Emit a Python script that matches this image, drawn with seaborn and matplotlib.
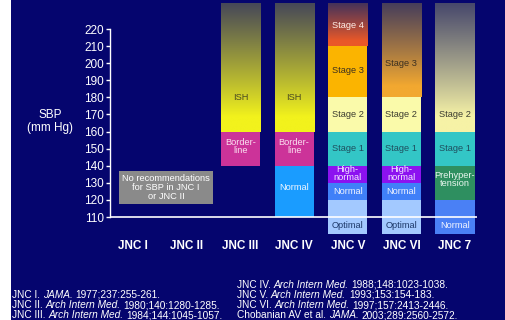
import numpy as np
import pandas as pd
import seaborn as sns
import matplotlib
matplotlib.use("Agg")
import matplotlib.pyplot as plt
from matplotlib.patches import Rectangle
from matplotlib.colors import to_rgb

# ---------------- data ----------------
reports = ["JNC I", "JNC II", "JNC III", "JNC IV", "JNC V", "JNC VI", "JNC 7"]

seg_report = ["JNC III", "JNC III",
              "JNC IV", "JNC IV", "JNC IV",
              "JNC V", "JNC V", "JNC V", "JNC V", "JNC V", "JNC V", "JNC V",
              "JNC VI", "JNC VI", "JNC VI", "JNC VI", "JNC VI", "JNC VI",
              "JNC 7", "JNC 7", "JNC 7", "JNC 7"]
seg_label = ["Border-\nline", "ISH",
             "Normal", "Border-\nline", "ISH",
             "Optimal", "Normal", "High-\nnormal", "Stage 1", "Stage 2", "Stage 3", "Stage 4",
             "Optimal", "Normal", "High-\nnormal", "Stage 1", "Stage 2", "Stage 3",
             "Normal", "Prehyper-\ntension", "Stage 1", "Stage 2"]
seg_low = [140, 160,
           110, 140, 160,
           100, 120, 130, 140, 160, 180, 210,
           100, 120, 130, 140, 160, 180,
           100, 120, 140, 160]
seg_high = [160, 235,
            140, 160, 235,
            120, 130, 140, 160, 180, 210, 235,
            120, 130, 140, 160, 180, 235,
            120, 140, 160, 235]
seg_fade = [False, True,
            False, False, True,
            False, False, False, False, False, False, True,
            False, False, False, False, False, True,
            False, False, False, True]

# styles
seg_color = ["#cc3399", "#f2f21c",
             "#1a9cff", "#cc3399", "#f2f21c",
             "#a3c9ff", "#4080f8", "#8c12f0", "#33c6c6", "#fafaaa", "#fbb400", "#ea5828",
             "#a3c9ff", "#4080f8", "#8c12f0", "#33c6c6", "#fafaaa", "#f2a830",
             "#4a80f5", "#2e8f60", "#33c6c6", "#f6f2a6"]
seg_text_color = ["#fbe0f0", "#4a4a22",
                  "#f0f6ff", "#fbe0f0", "#4a4a22",
                  "#1e3a6a", "#f0f4ff", "#f4eaff", "#1f4f5f", "#3c3c30", "#3c3020", "#fff0e8",
                  "#1e3a6a", "#f0f4ff", "#f4eaff", "#1f4f5f", "#3c3c30", "#3c3020",
                  "#f0f4ff", "#e8f6ee", "#1f4f5f", "#3c3c30"]
seg_text_y = [151, 180,
              127.5, 151, 180,
              105, 125, 135.5, 150, 170, 196, 222,
              105, 125, 135.5, 150, 170, 200,
              105, 132, 150, 170]

y_ticks = list(range(110, 221, 10))
no_rec_text = "No recommendations\nfor SBP in JNC I\nor JNC II"

refs_left = [
    [("JNC I.", False), ("JAMA.", True), ("1977;237:255-261.", False)],
    [("JNC II.", False), ("Arch Intern Med.", True), ("1980;140:1280-1285.", False)],
    [("JNC III.", False), ("Arch Intern Med.", True), ("1984;144:1045-1057.", False)],
]
refs_right = [
    [("JNC IV.", False), ("Arch Intern Med.", True), ("1988;148:1023-1038.", False)],
    [("JNC V.", False), ("Arch Intern Med.", True), ("1993;153:154-183.", False)],
    [("JNC VI.", False), ("Arch Intern Med.", True), ("1997;157:2413-2446.", False)],
    [("Chobanian AV et al.", False), ("JAMA.", True), ("2003;289:2560-2572.", False)],
]

# ---------------- figure ----------------
W, H = 505, 320
NAVY = "#05056e"
sns.set_theme(style="white")
plt.rcParams["font.family"] = ["Liberation Sans", "DejaVu Sans"]

fig = plt.figure(figsize=(W / 100, H / 100), dpi=100, facecolor="white")
fig.patches.append(Rectangle((11 / W, 0), 1 - 11 / W, 1, transform=fig.transFigure,
                             facecolor=NAVY, edgecolor="none", zorder=-10))

ax = fig.add_axes([110 / W, 83 / H, 367 / W, 237 / H])
ax.set_facecolor("none")

navy_rgb = np.array(to_rgb(NAVY))
grey_top = np.array(to_rgb("#2a2c62"))
for rep, lab, lo, hi, fade, col, tcol, ty in zip(seg_report, seg_label, seg_low, seg_high,
                                                 seg_fade, seg_color, seg_text_color, seg_text_y):
    n_before = len(ax.patches)
    sns.barplot(x=[rep], y=[hi - lo], bottom=lo, order=reports, color=col, saturation=1,
                width=0.73, errorbar=None, ax=ax, linewidth=0, edgecolor="none")
    new = ax.patches[n_before:]
    for p in new:
        if fade:
            x0, w = p.get_x(), p.get_width()
            y0, h = p.get_y(), p.get_height()
            c = np.array(to_rgb(col))
            dark = c * 0.14 + grey_top * 0.86
            t = np.linspace(0, 1, 256)[:, None]
            f = np.clip((t - 0.12) / 0.88, 0, 1) ** 0.95
            img = c[None, :] * (1 - f) + dark[None, :] * f
            img = img[:, None, :]
            ax.imshow(img, extent=[x0, x0 + w, y0, y0 + h], origin="lower",
                      aspect="auto", interpolation="bilinear", zorder=p.get_zorder() + 0.1)
            p.set_visible(False)
    xi = reports.index(rep)
    ax.text(xi, ty, lab, ha="center", va="center", fontsize=6.7, color=tcol,
            linespacing=0.85, zorder=6)

# grey "no recommendations" box
ax.text(0.61, 127.3, no_rec_text, ha="center", va="center", fontsize=6.7, color="white",
        linespacing=1.05, zorder=6,
        bbox=dict(boxstyle="square,pad=0.3", facecolor="#8a8a8a", edgecolor="none"))

# axes styling
ax.set_xlim(-0.435, 6.41)
ax.set_ylim(98.3, 237.0)
ax.set_yticks(y_ticks)
ax.set_yticklabels([str(v) for v in y_ticks], color="white", fontsize=8.5)
ax.set_xticks(range(len(reports)))
ax.set_xticklabels(reports, color="white", fontsize=8.5, fontweight="bold")
ax.tick_params(axis="x", length=0, pad=2)
ax.tick_params(axis="y", length=3, width=1, color="white", pad=1.5, left=True, direction="out")
for s in ["top", "right", "bottom"]:
    ax.spines[s].set_visible(False)
ax.spines["left"].set_color("white")
ax.spines["left"].set_linewidth(1)
ax.spines["left"].set_bounds(110, 220)
ax.axhline(110, color="white", lw=1.2, zorder=7)
ax.set_xlabel("")
ax.set_ylabel("SBP\n(mm Hg)", rotation=0, color="white", fontsize=8.5, ha="center",
              va="center", linespacing=1.1)
ax.yaxis.set_label_coords(-0.163, 0.487)
ax.grid(False)

# references
renderer = fig.canvas.get_renderer()
REF_FS = 7.3
space_px = 0.278 * REF_FS * 100 / 72


def rich_line(x_px, y_px, parts):
    x = x_px
    for s, italic in parts:
        t = fig.text(x / W, 1 - y_px / H, s, fontsize=REF_FS, color="white",
                     fontstyle="italic" if italic else "normal", ha="left", va="center")
        x = t.get_window_extent(renderer).x1 + space_px


for i, parts in enumerate(refs_left):
    rich_line(12, 294.9 + 10.3 * i, parts)
for i, parts in enumerate(refs_right):
    rich_line(237, 284.6 + 10.3 * i, parts)

fig.savefig("out.png", dpi=100, facecolor=fig.get_facecolor())
